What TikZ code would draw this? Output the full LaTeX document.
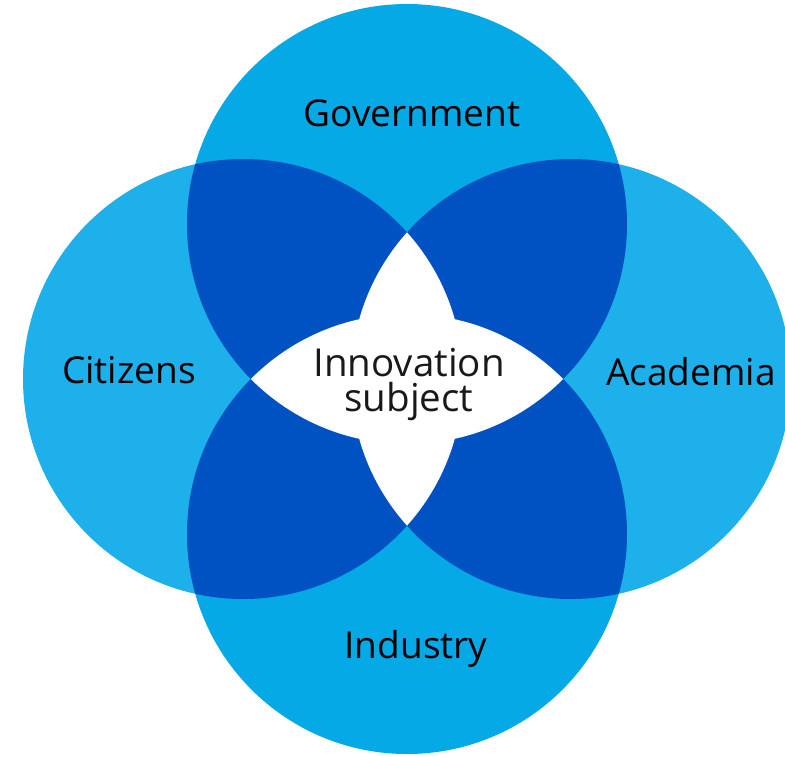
\documentclass[tikz,border=0pt]{standalone}
\usepackage{fontspec}
\setmainfont{Open Sans}
\definecolor{tbblue}{HTML}{05A9E6}
\definecolor{lrblue}{HTML}{1EB0EA}
\definecolor{darkblue}{HTML}{0052C2}
\begin{document}
\begin{tikzpicture}[x=1pt,y=-1pt,
  lbl/.style={font=\fontsize{37}{35}\selectfont, text=black, inner sep=0pt},
  centerlbl/.style={font=\fontsize{38.5}{35}\selectfont, text=black!90, inner sep=0pt, align=center}]
\useasboundingbox (0,0) rectangle (785,756);
\coordinate (cT) at (407,224);
\coordinate (cB) at (407,534);
\coordinate (cL) at (243,379);
\coordinate (cR) at (571,379);
\def\rad{220pt}
% single circles
\fill[lrblue] (cL) circle (\rad);
\fill[lrblue] (cR) circle (\rad);
\fill[tbblue] (cT) circle (\rad);
\fill[tbblue] (cB) circle (\rad);
% pairwise overlaps
\begin{scope}
  \clip (cT) circle (\rad);
  \fill[darkblue] (cL) circle (\rad);
  \fill[darkblue] (cR) circle (\rad);
  \fill[darkblue] (cB) circle (\rad);
\end{scope}
\begin{scope}
  \clip (cB) circle (\rad);
  \fill[darkblue] (cL) circle (\rad);
  \fill[darkblue] (cR) circle (\rad);
\end{scope}
\begin{scope}
  \clip (cL) circle (\rad);
  \fill[darkblue] (cR) circle (\rad);
\end{scope}
% triple overlaps (white)
\begin{scope}
  \clip (cT) circle (\rad);
  \clip (cL) circle (\rad);
  \fill[white] (cR) circle (\rad);
  \fill[white] (cB) circle (\rad);
\end{scope}
\begin{scope}
  \clip (cT) circle (\rad);
  \clip (cR) circle (\rad);
  \fill[white] (cB) circle (\rad);
\end{scope}
\begin{scope}
  \clip (cB) circle (\rad);
  \clip (cL) circle (\rad);
  \fill[white] (cR) circle (\rad);
\end{scope}
% labels
\node[lbl, anchor=base] (gov) at (412,126) {Government};
\node[lbl, anchor=base] (cit) at (129,383) {Citizens};
\node[lbl, anchor=base] (aca) at (691,385) {Academia};
\node[lbl, anchor=base] (ind) at (416,658) {Industry};
\node[centerlbl, anchor=north] (inn) at (409,348) {Innovation\\subject};
\end{tikzpicture}
\end{document}
